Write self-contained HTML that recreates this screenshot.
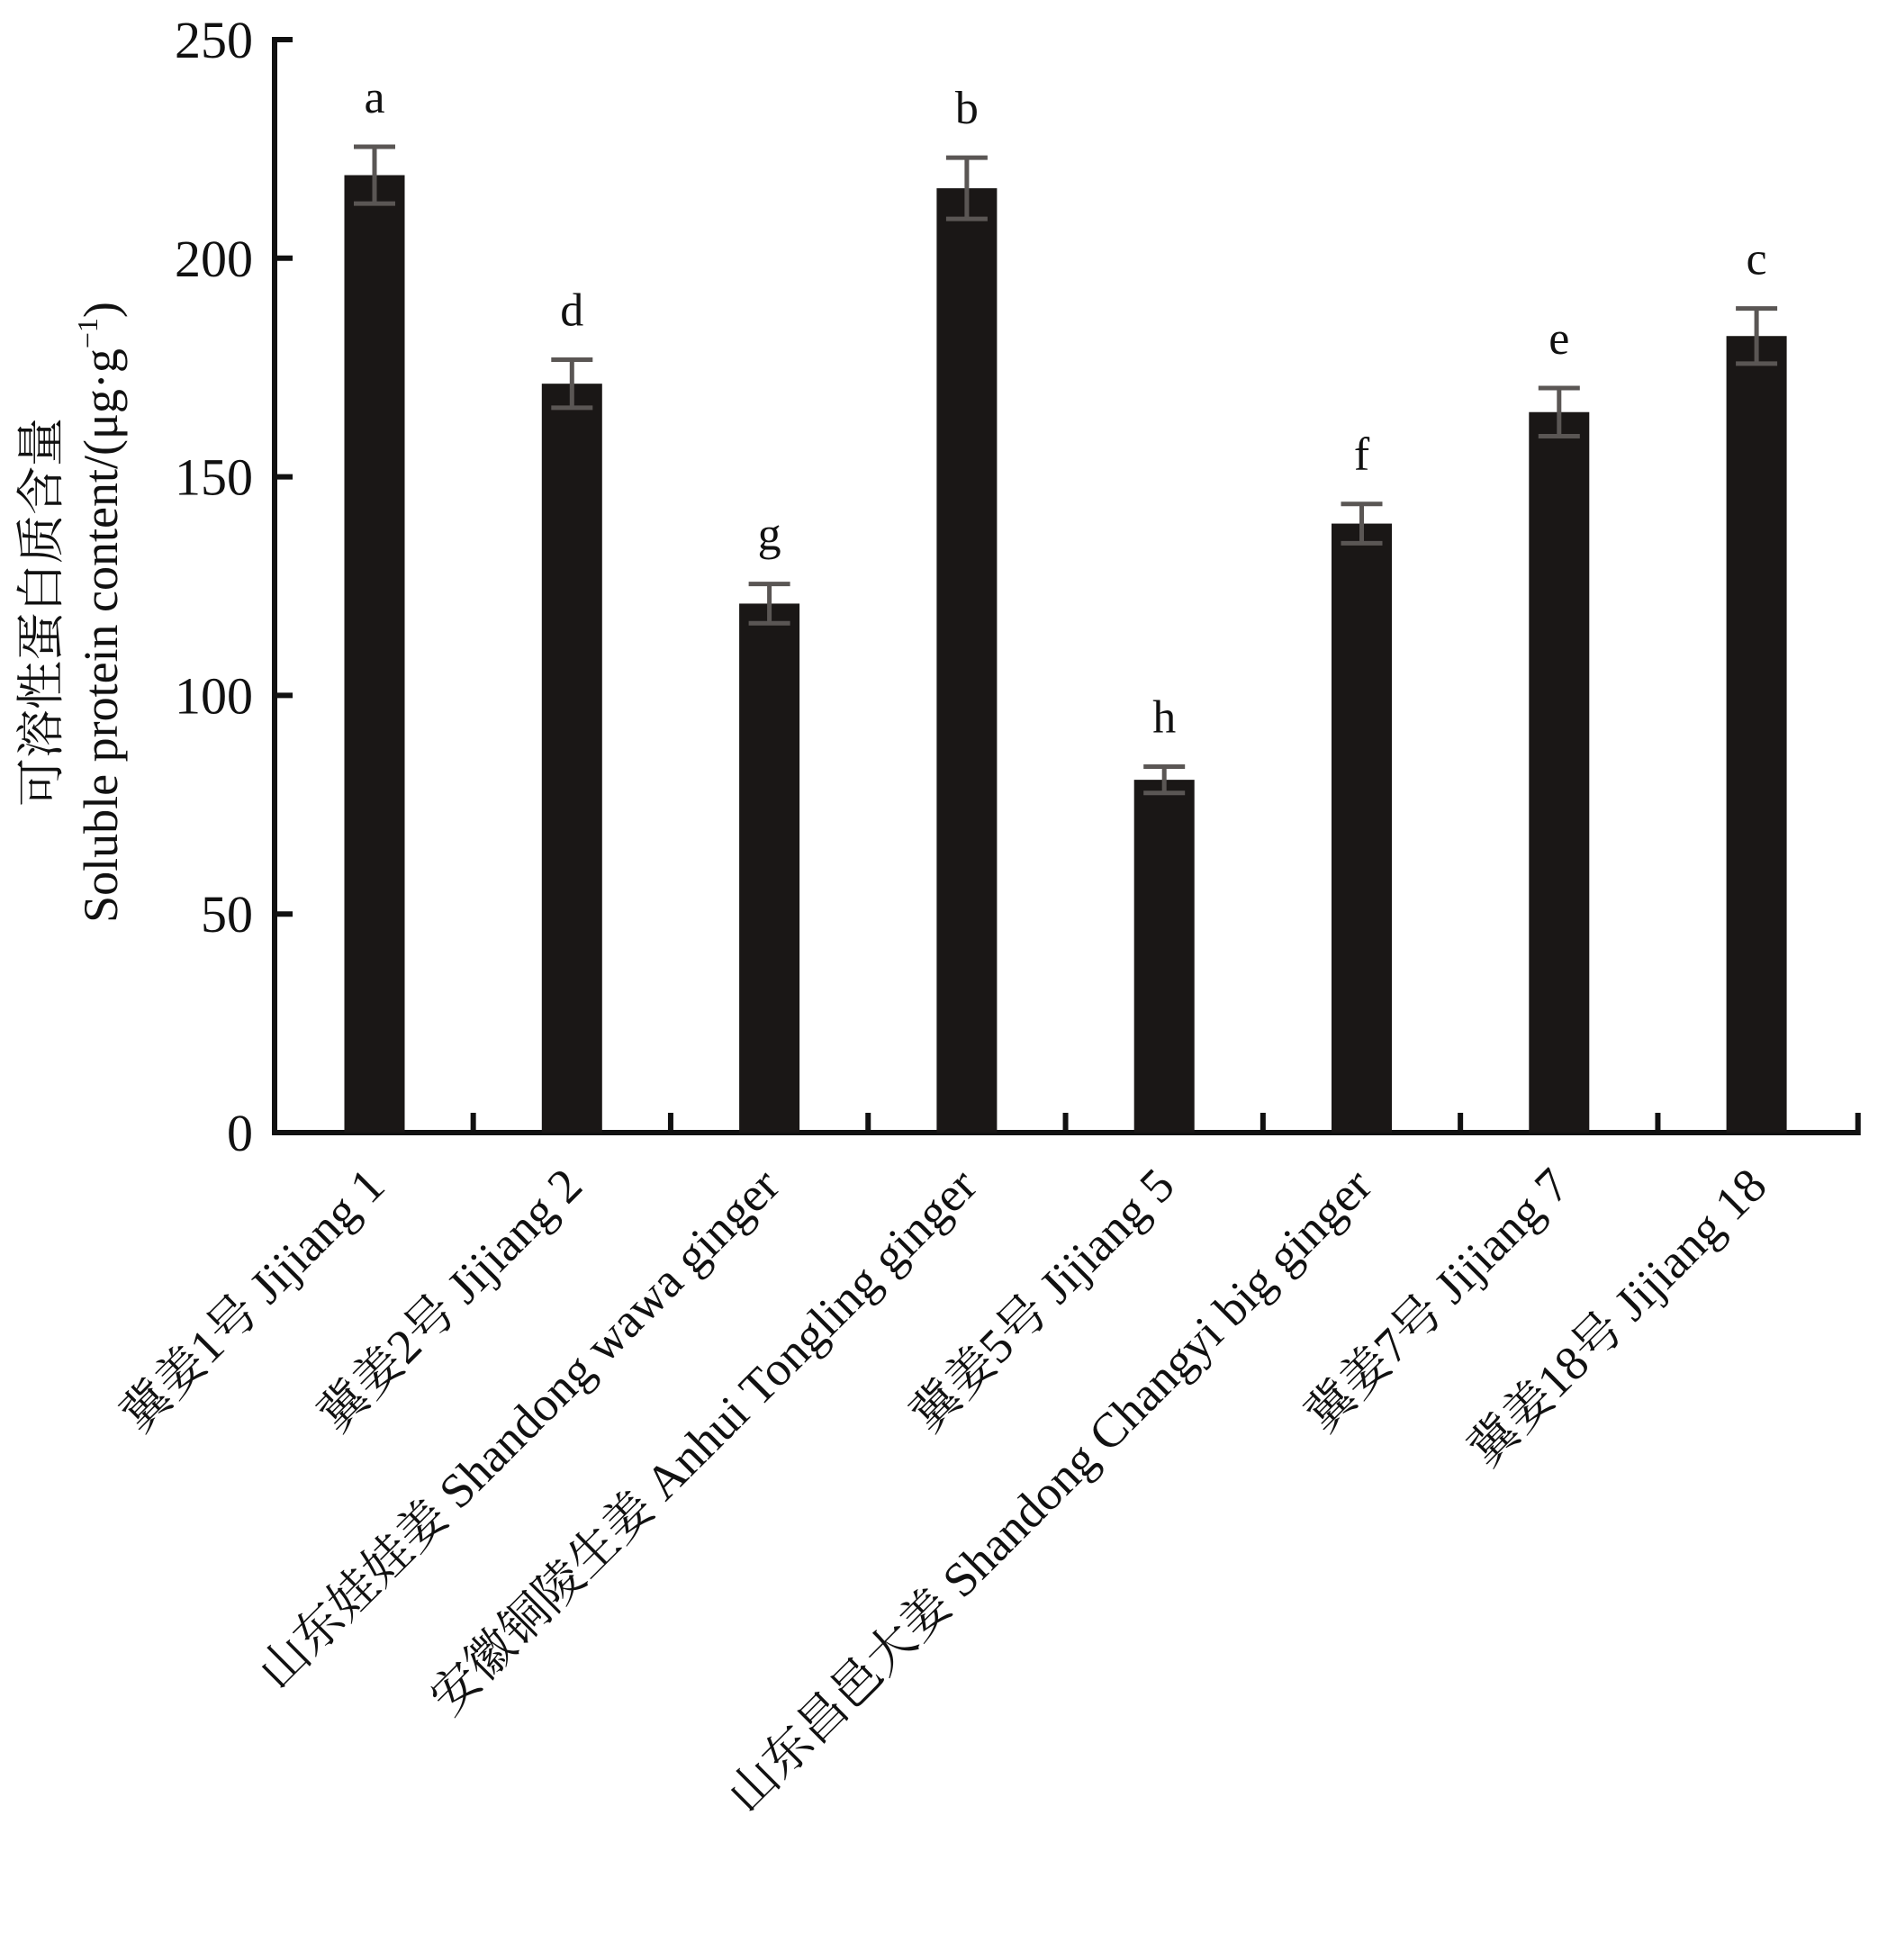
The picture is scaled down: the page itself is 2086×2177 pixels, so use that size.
<!DOCTYPE html>
<html><head><meta charset="utf-8"><style>
html,body{margin:0;padding:0;background:#fff;}
svg{display:block;}
text{font-family:"Liberation Serif","Noto Serif CJK SC",serif;fill:#111;}
</style></head>
<body>
<svg id="chart" width="2086" height="2177" viewBox="0 0 2086 2177" xmlns="http://www.w3.org/2000/svg">
<g id="axes"></g>
<g id="bars"></g>
<g id="labels"></g>
<text transform="translate(64,680) rotate(-90)" text-anchor="middle" font-size="54">可溶性蛋白质含量</text>
<text transform="translate(130,680) rotate(-90)" text-anchor="middle" font-size="54">Soluble protein content/(μg·g<tspan dy="-22" font-size="32">−1</tspan><tspan dy="22">)</tspan></text>
</svg>
<script>
const categories = ["冀姜1号 Jijiang 1","冀姜2号 Jijiang 2","山东娃娃姜 Shandong wawa ginger","安徽铜陵生姜 Anhui Tongling ginger","冀姜5号 Jijiang 5","山东昌邑大姜 Shandong Changyi big ginger","冀姜7号 Jijiang 7","冀姜18号 Jijiang 18"];
const values = [219, 171.3, 121, 216, 80.7, 139.3, 164.8, 182.2];
const errors = [6.5, 5.5, 4.5, 7, 3, 4.5, 5.5, 6.3];
const letters = ["a","d","g","b","h","f","e","c"];
const yTicks = [0, 50, 100, 150, 200, 250];

const NS = "http://www.w3.org/2000/svg";
const X0 = 305, Y0 = 1258, YTOP = 44, YMAX = 250;
const firstCenter = 416, step = 219.3, barW = 67, capW = 46;
const yScale = v => Y0 - (v / YMAX) * (Y0 - YTOP);
const xScale = i => firstCenter + i * step;
function mk(tag, attrs, parent) {
  const e = document.createElementNS(NS, tag);
  for (const k in attrs) e.setAttribute(k, attrs[k]);
  parent.appendChild(e);
  return e;
}
const axes = document.getElementById('axes');
const bars = document.getElementById('bars');
const labels = document.getElementById('labels');
const xEnd = xScale(categories.length - 1) + step / 2 + 3;

let yl = mk('line', {x1: X0, y1: YTOP - 3, x2: X0, y2: Y0 + 3, stroke: '#111', 'stroke-width': 6}, axes);


let xl = mk('path', {d: `M${X0} ${Y0} H${xEnd} V${Y0 - 22}`, stroke: '#111', 'stroke-width': 6, fill: 'none'}, axes);



yTicks.forEach(t => {
  const y = yScale(t);
  const tk = mk('line', {x1: X0, y1: y, x2: X0 + 20, y2: y, stroke: '#111', 'stroke-width': 6}, axes);
  
  
  const tx = mk('text', {x: X0 - 24, y: y + 20, 'text-anchor': 'end', 'font-size': 58}, axes);
  tx.textContent = t;
  
  
});
for (let i = 0; i < categories.length - 1; i++) {
  const x = xScale(i) + step / 2;
  const tk = mk('line', {x1: x, y1: Y0, x2: x, y2: Y0 - 22, stroke: '#111', 'stroke-width': 6}, axes);
  
  
}
categories.forEach((c, i) => {
  const cx = xScale(i), top = yScale(values[i]);
  const r = mk('rect', {x: cx - barW / 2, y: top, width: barW, height: Y0 - top, fill: '#1a1716'}, bars);
  
  
  const eTop = yScale(values[i] + errors[i]), eBot = yScale(values[i] - errors[i]);
  const eb = mk('path', {d: `M${cx - capW / 2} ${eTop} H${cx + capW / 2} M${cx} ${eTop} V${eBot} M${cx - capW / 2} ${eBot} H${cx + capW / 2}`, stroke: '#5a5654', 'stroke-width': 5, fill: 'none'}, bars);
  
  
  const lt = mk('text', {x: cx, y: eTop - 38, 'text-anchor': 'middle', 'font-size': 52}, bars);
  lt.textContent = letters[i];
  
  
  const lb = mk('text', {transform: `translate(${cx + 14},${Y0 + 62}) rotate(-45)`, 'text-anchor': 'end', 'font-size': 54}, labels);
  lb.textContent = c;
  
  
});
</script>
</body></html>
